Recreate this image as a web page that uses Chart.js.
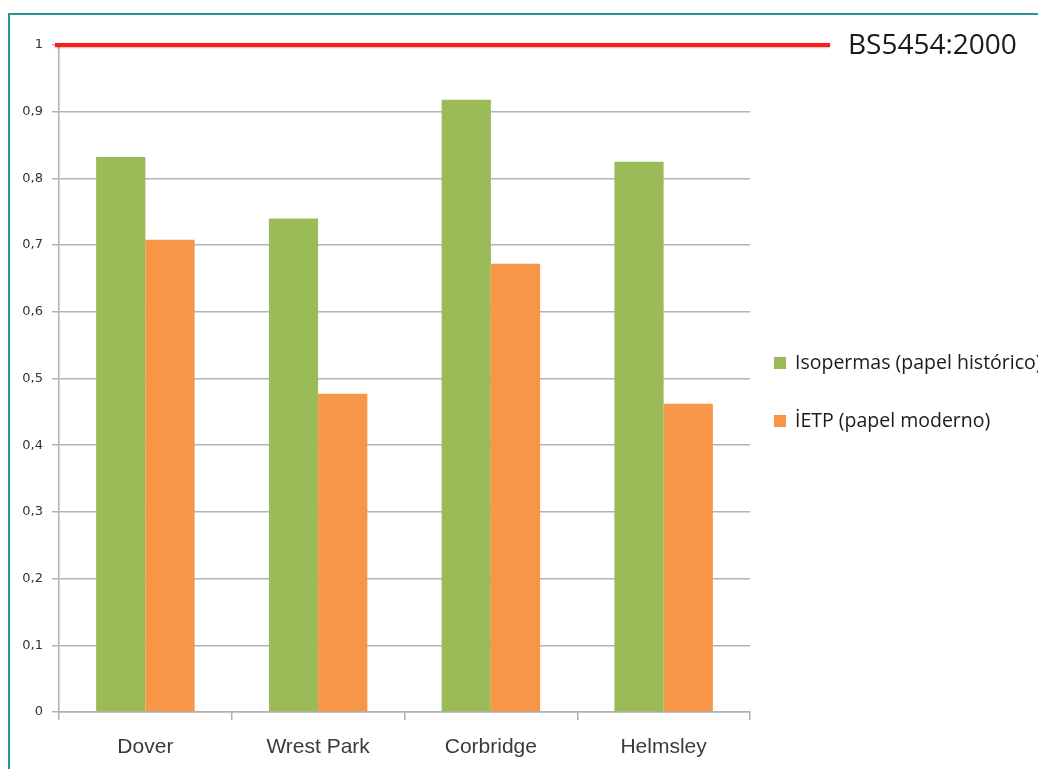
<!DOCTYPE html>
<html>
<head>
<meta charset="utf-8">
<script src="https://cdn.jsdelivr.net/npm/chart.js@4"></script>
<style>
  html, body { margin: 0; padding: 0; background: #fff; overflow: hidden; }
  #frame {
    position: absolute; left: 8px; top: 13px; width: 1100px; height: 800px;
    border-left: 2px solid #2a9595; border-top: 2px solid #2a9595;
  }
  #wrap { position: absolute; left: 0; top: 0; width: 1038px; height: 769px; }
</style>
</head>
<body>
<div id="frame"></div>
<div id="wrap"><canvas id="graph1" width="1038" height="769"></canvas></div>
<script>
let sites = ['Dover', 'Wrest Park', 'Corbridge', 'Helmsley'];
let isopermas = [0.832, 0.74, 0.918, 0.825];
let ietp = [0.708, 0.477, 0.672, 0.462];
let seriesNames = ['Isopermas (papel histórico)', 'İETP (papel moderno)'];
let seriesColors = ['#9bbb59', '#f79646'];
let standardLabel = 'BS5454:2000';
let standardValue = 1;

// red reference line, its label and the legend on the right
const extras = {
    id: 'extras',
    afterDraw(chart) {
        const c = chart.ctx;
        const y = chart.scales.y.getPixelForValue(standardValue);
        c.save();
        c.shadowColor = 'rgba(0,0,0,0.25)';
        c.shadowBlur = 2;
        c.shadowOffsetY = 1;
        c.strokeStyle = '#ff1a1a';
        c.lineWidth = 4;
        c.beginPath();
        c.moveTo(55, y);
        c.lineTo(830, y);
        c.stroke();
        c.restore();

        c.save();
        c.fillStyle = '#1a1a1a';
        c.font = '28px "Open Sans", sans-serif';
        c.textBaseline = 'middle';
        c.fillText(standardLabel, 848, y + 1);

        c.font = '19.5px "Open Sans", sans-serif';
        let ys = [363, 421];
        chart.data.datasets.forEach((ds, i) => {
            c.fillStyle = ds.backgroundColor;
            c.fillRect(774, ys[i] - 6, 12, 12);
            c.fillStyle = '#1a1a1a';
            c.fillText(ds.label, 795, ys[i]);
        });
        c.restore();
    }
};

const ctx = document.getElementById('graph1').getContext('2d');
var myChart = new Chart(ctx, {
    type: 'bar',
    data: {
        labels: sites,
        datasets: [{
            label: seriesNames[0],
            data: isopermas,
            backgroundColor: seriesColors[0]
        }, {
            label: seriesNames[1],
            data: ietp,
            backgroundColor: seriesColors[1]
        }]
    },
    options: {
        responsive: false,
        animation: false,
        categoryPercentage: 0.57,
        barPercentage: 1,
        layout: { padding: { left: 0, right: 288, top: 45, bottom: 0 } },
        plugins: {
            legend: { display: false },
            tooltip: { enabled: false }
        },
        scales: {
            x: {
                afterFit(s) { s.height = 57; },
                grid: {
                    offset: true,
                    drawOnChartArea: false,
                    color: '#b0b0b0',
                    lineWidth: 1.5,
                    tickLength: 8
                },
                border: { color: '#b0b0b0', width: 1.5 },
                ticks: {
                    color: '#3a3a3a',
                    padding: 15,
                    font: { family: '"Liberation Sans", Arial, sans-serif', size: 21 }
                }
            },
            y: {
                min: 0,
                max: 1,
                afterFit(s) { s.width = 59; },
                grid: {
                    color: '#b3b3b3',
                    lineWidth: 1.5,
                    tickLength: 7
                },
                border: { color: '#b0b0b0', width: 1.5 },
                ticks: {
                    stepSize: 0.1,
                    color: '#333',
                    padding: 9,
                    font: { family: '"DejaVu Sans", Verdana, sans-serif', size: 13 },
                    callback: v => (Math.round(v * 10) / 10).toString().replace('.', ',')
                }
            }
        }
    },
    plugins: [extras]
});
</script>
</body>
</html>
